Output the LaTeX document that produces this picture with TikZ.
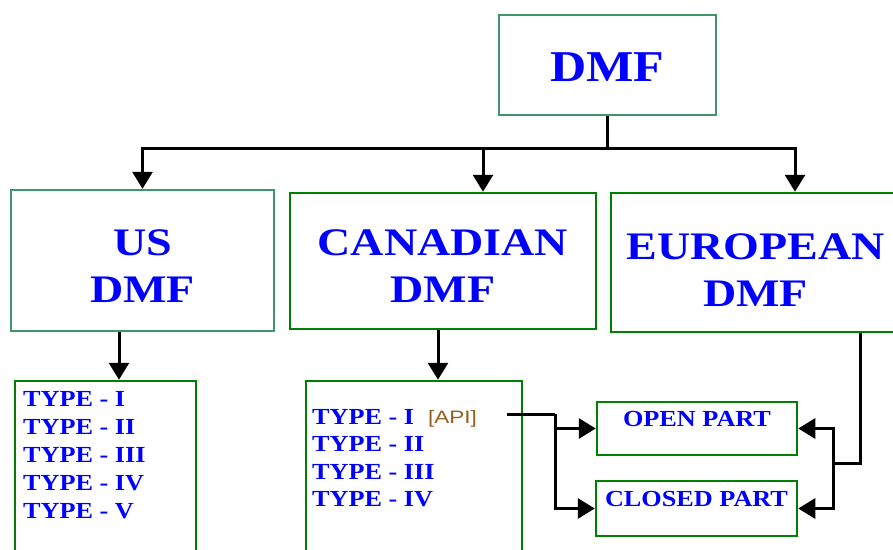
\documentclass[tikz,border=0pt]{standalone}
\usepackage{fontspec}
\setmainfont{Liberation Serif}
\newfontfamily\wideserif[FakeStretch=1.18]{Liberation Serif}
\newfontfamily\typeserif[FakeStretch=1.14]{Liberation Serif}
\newfontfamily\apifont[FakeStretch=1.25]{Liberation Sans}
\usepackage{xcolor}
\usetikzlibrary{arrows.meta}

\definecolor{dmfblue}{RGB}{0,0,255}
\definecolor{boxgreen}{RGB}{0,128,0}
\definecolor{tealgreen}{RGB}{60,150,110}
\definecolor{apibrown}{RGB}{150,95,30}

% strut that pushes the first line of a box a little lower
\newcommand{\droptext}[1]{\rule{0pt}{#1}}

\tikzset{
  box/.style={draw=boxgreen,line width=2.5pt,inner sep=0pt,align=center,
    text=dmfblue,font=\wideserif\fontsize{39}{47}\selectfont\bfseries},
  partbox/.style={box,font=\typeserif\fontsize{23}{26}\selectfont\bfseries,
    text height=17pt,text depth=22pt},
  typetxt/.style={anchor=base west,inner sep=0pt,text=dmfblue,
    font=\typeserif\fontsize{23}{28}\selectfont\bfseries},
  link/.style={line width=3pt},
  conn/.style={link,-{Triangle[length=17pt,width=20pt]}}
}

\begin{document}
\begin{tikzpicture}[x=1pt,y=-1pt]
\useasboundingbox (0,0) rectangle (893,549);
\clip (0,0) rectangle (893,549);
%
\node[box,draw=tealgreen,minimum width=217pt,minimum height=100pt,
  font=\typeserif\fontsize{44}{47}\selectfont\bfseries] (dmf) at (607.5,65) {\droptext{34pt}DMF};
\node[box,draw=tealgreen,minimum width=263pt,minimum height=141pt] (us) at (142.5,260.5) {\droptext{38pt}US\\DMF};
\node[box,minimum width=306pt,minimum height=136pt] (can) at (443,261) {\droptext{37pt}CANADIAN\\DMF};
\node[box,minimum width=289pt,minimum height=139pt] (eu) at (755.5,262.5) {\droptext{42pt}EUROPEAN\\DMF};
%
\node[box,minimum width=181pt,minimum height=179pt] (uslist) at (105.5,470.5) {};
\node[box,minimum width=216pt,minimum height=179pt] (canlist) at (414,470.5) {};
\node[partbox,minimum width=200pt,minimum height=53pt] (open) at (697,428.5) {OPEN PART};
\node[partbox,minimum width=201pt,minimum height=55pt] (closed) at (696.5,508.5) {CLOSED PART};
%
\foreach \t [count=\i] in {I,II,III,IV,V}
  \node[typetxt] (ustype\i) at (23,378+28*\i) {TYPE - \t};
\foreach \t [count=\i] in {I,II,III,IV}
  \node[typetxt] (cantype\i) at (312,396.5+27.5*\i) {TYPE - \t};
\node[anchor=base west,inner sep=0pt,text=apibrown,font=\apifont\fontsize{18}{20}\selectfont] (api) at (428,423) {[API]};
%
\coordinate (hub) at (dmf.south |- 0,148);
\draw[link] (dmf.south) -- (hub);
\draw[conn] (hub) -| (us.north);
\draw[conn] (hub) -| ([xshift=40pt]can.north);
\draw[conn] (hub) -| ([xshift=39.5pt]eu.north);
%
\draw[conn] ([xshift=-23.5pt]us.south) coordinate (usdown) -- (usdown |- uslist.north);
\draw[conn] ([xshift=-5pt]can.south) coordinate (candown) -- (candown |- canlist.north);
%
\coordinate (apiend) at (507,414);
\coordinate (apifork) at (555,414);
\draw[link] (apiend) -- (apifork);
\draw[conn] (apifork) |- (open.west);
\draw[conn] (apifork) |- (closed.west);
%
\coordinate (eufork) at (833,463);
\draw[link] ([xshift=104.5pt]eu.south) |- (eufork);
\draw[conn] (eufork) |- (open.east);
\draw[conn] (eufork) |- (closed.east);
\end{tikzpicture}
\end{document}
